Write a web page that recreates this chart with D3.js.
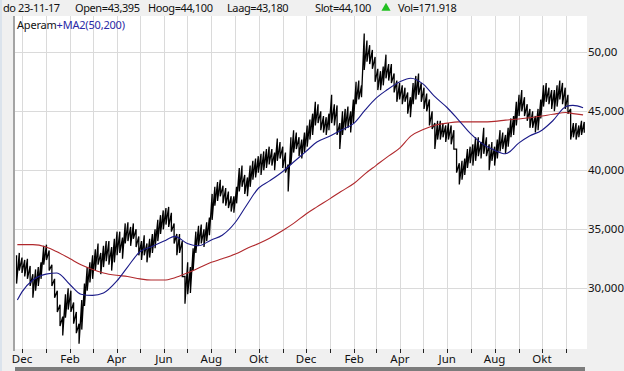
<!DOCTYPE html>
<html lang="nl">
<head>
<meta charset="UTF-8">
<title>Aperam + MA2(50,200)</title>
<script src="https://d3js.org/d3.v7.min.js"></script>
<style>
  body { margin: 0; padding: 0; background: #f0f0f0; overflow: hidden; }
  svg { display: block; font-family: "Noto Sans", "Open Sans", sans-serif; }
  .grid line { stroke: #dadada; stroke-width: 1; shape-rendering: crispEdges; }
  .lbl { font-size: 11px; fill: #111; }
</style>
</head>
<body>
<svg id="chart" width="624" height="371"></svg>
<script>
// half-weekly price bars (low / high), starting 24-11-2015, every 3.5 days
const barLows = [
  30.4,31.5, 31.3,31.0, 30.8,30.2, 29.2,29.8, 30.2,30.8, 32.0,32.4, 31.5,30.2, 29.2,28.0, 26.8,26.0, 27.5,28.2,
  28.0,27.0, 26.2,25.3, 26.5,28.5, 29.8,30.5, 30.8,31.5, 32.0,31.2, 31.8,32.3, 32.0,31.5, 32.2,32.8, 33.0,32.5,
  33.8,34.0, 33.6,34.2, 33.5,32.8, 32.4,32.8, 32.2,32.6, 33.0,33.4, 34.0,34.6, 35.0,35.4, 35.2,34.8, 33.8,32.8,
  33.0,31.0, 28.7,29.5, 29.6,31.5, 33.0,33.6, 33.8,33.5, 34.0,34.5, 35.8,37.0, 37.4,37.8, 37.2,37.0, 36.8,36.5,
  36.4,37.2, 38.2,38.6, 38.0,37.8, 38.6,39.2, 39.4,39.8, 39.6,40.0, 40.2,40.5, 40.4,40.0, 40.8,41.0, 40.2,39.8,
  38.2,40.5, 41.5,41.8, 41.2,41.0, 41.5,42.0, 42.6,43.0, 43.8,44.0, 43.4,43.2, 43.0,43.4, 44.0,43.8, 43.0,41.8,
  43.0,43.4, 43.6,43.2, 44.0,45.6, 46.0,46.2, 48.5,49.2, 49.0,48.6, 47.5,46.8, 46.8,47.2, 47.8,47.6, 47.4,46.6,
  45.8,46.0, 45.6,45.8, 44.8,44.5, 45.6,46.0, 46.4,45.8, 45.2,45.0, 43.8,43.5, 41.8,42.6, 42.6,42.8, 42.4,42.6,
  42.2,41.8, 39.8,38.8, 39.2,39.6, 40.2,40.6, 40.4,40.8, 41.2,41.0, 41.4,41.2, 40.0,40.8, 40.4,41.0, 41.6,41.8,
  41.4,42.0, 42.8,43.0, 43.8,44.6, 45.0,44.6, 44.2,43.6, 43.6,43.2, 43.4,44.4, 45.4,45.8, 45.6,45.2, 45.0,45.4,
  46.0,45.6, 45.2,44.8, 42.6,42.8, 42.6,42.8, 43.0,43.18
];
const barHighs = [
  32.8,33.0, 32.6,32.4, 32.5,31.9, 31.2,31.6, 31.8,32.2, 33.6,33.7, 33.2,32.0, 30.8,29.8, 28.6,27.6, 29.5,30.0,
  29.8,28.8, 28.0,27.0, 29.0,30.4, 31.8,32.2, 32.8,33.3, 33.8,33.0, 33.6,34.0, 34.0,33.5, 34.2,34.8, 34.8,34.3,
  35.5,35.6, 35.2,35.5, 35.0,34.4, 34.0,34.5, 33.8,34.2, 34.6,35.0, 35.8,36.2, 36.6,36.8, 36.9,36.4, 35.5,34.6,
  34.6,34.0, 31.0,32.2, 31.8,33.4, 34.8,35.3, 35.4,35.0, 35.6,36.0, 38.0,38.6, 39.0,39.2, 38.7,38.5, 38.2,37.8,
  37.8,38.6, 40.2,40.4, 39.6,39.4, 40.4,40.8, 41.0,41.2, 41.4,41.6, 41.8,42.0, 41.8,41.5, 42.7,42.4, 42.0,41.5,
  40.5,42.8, 43.4,43.2, 42.8,42.6, 43.2,43.8, 44.3,44.8, 45.8,45.6, 45.0,44.6, 44.5,44.8, 46.4,45.6, 45.5,44.0,
  45.0,45.2, 45.4,45.0, 46.0,47.5, 47.6,47.2, 51.6,51.0, 50.6,50.2, 49.6,48.6, 48.4,48.8, 49.8,49.0, 49.0,48.2,
  47.6,47.4, 47.2,47.0, 46.6,46.2, 47.4,48.0, 48.2,47.4, 47.0,46.5, 46.0,45.0, 44.0,44.2, 44.2,44.0, 43.8,44.0,
  43.8,43.4, 41.8,40.6, 40.8,41.0, 41.8,42.0, 42.2,42.8, 42.8,42.4, 43.6,42.8, 42.2,42.4, 42.0,42.6, 43.4,43.2,
  43.0,43.6, 44.4,44.6, 45.8,46.4, 46.8,46.2, 45.6,45.2, 45.0,44.6, 45.2,46.0, 47.2,47.4, 47.0,46.8, 46.8,47.2,
  47.6,47.4, 47.0,46.4, 45.2,44.0, 44.0,43.8, 44.2,44.10
];

// moving averages, read every half month
const maDates = [
  "2015-11-25","2015-12-01","2015-12-15","2016-01-01","2016-01-15","2016-02-01","2016-02-15","2016-03-01",
  "2016-03-15","2016-04-01","2016-04-15","2016-05-01","2016-05-15","2016-06-01","2016-06-15","2016-07-01",
  "2016-07-15","2016-08-01","2016-08-15","2016-09-01","2016-09-15","2016-10-01","2016-10-15","2016-11-01",
  "2016-11-15","2016-12-01","2016-12-15","2017-01-01","2017-01-15","2017-02-01","2017-02-15","2017-03-01",
  "2017-03-15","2017-04-01","2017-04-15","2017-05-01","2017-05-15","2017-06-01","2017-06-15","2017-07-01",
  "2017-07-15","2017-08-01","2017-08-15","2017-09-01","2017-09-15","2017-10-01","2017-10-15","2017-11-01",
  "2017-11-10","2017-11-23"
];
const ma50 = [
  29.0, 29.7, 30.7, 31.2, 31.3, 30.3, 29.5, 29.4, 29.6, 30.6, 31.8, 33.1, 33.5, 34.0, 34.4, 33.8,
  33.6, 34.1, 34.5, 35.6, 37.0, 38.5, 39.1, 39.9, 40.7, 41.6, 42.4, 42.9, 43.4, 44.0, 45.1, 46.1,
  46.8, 47.5, 47.8, 47.3, 46.3, 45.3, 44.3, 43.1, 42.3, 41.7, 41.4, 42.3, 42.9, 43.4, 44.2, 45.4,
  45.5, 45.3
];
const ma200 = [
  33.7, 33.7, 33.7, 33.5, 33.1, 32.5, 32.0, 31.6, 31.3, 31.1, 31.0, 30.8, 30.7, 30.7, 30.9, 31.3,
  31.7, 32.2, 32.5, 32.9, 33.35, 33.8, 34.25, 34.9, 35.5, 36.3, 36.9, 37.6, 38.2, 38.9, 39.7, 40.4,
  41.1, 41.9, 42.9, 43.45, 43.8, 44.0, 44.1, 44.1, 44.1, 44.15, 44.25, 44.35, 44.45, 44.6, 44.75, 44.9,
  44.8, 44.7
];

const yTicks = [30, 35, 40, 45, 50];
const yTickLabels = ["30,000", "35,000", "40,000", "45,000", "50,00"];
const monthNames = ["Jan", "Feb", "Mrt", "Apr", "Mei", "Jun", "Jul", "Aug", "Sep", "Okt", "Nov", "Dec"];
const headerTexts = ["do 23-11-17", "Open=43,395", "Hoog=44,100", "Laag=43,180", "Slot=44,100", "Vol=171.918"];

const svg = d3.select("#chart");
const plot = { left: 15, right: 587, top: 16, bottom: 349 };

const startDate = new Date(2015, 10, 24);
const bars = barLows.map((lo, i) => ({
  date: d3.timeHour.offset(startDate, i * 84),
  low: lo,
  high: barHighs[i]
}));
const parse = d3.timeParse("%Y-%m-%d");
const maData = maDates.map((d, i) => ({ date: parse(d), ma50: ma50[i], ma200: ma200[i] }));

const x = d3.scaleTime()
  .domain([new Date(2015, 11, 1), new Date(2017, 10, 1)])
  .range([22, 566]);
const y = d3.scaleLinear()
  .domain([30, 50])
  .range([288.3, 52.3]);

svg.append("rect").attr("width", 624).attr("height", 371).attr("fill", "#f0f0f0");
svg.append("rect").attr("width", 2).attr("height", 371).attr("fill", "#dbe3ec");

svg.append("rect")
  .attr("x", plot.left).attr("y", plot.top)
  .attr("width", plot.right - plot.left).attr("height", plot.bottom - plot.top)
  .attr("fill", "#fff");

svg.append("clipPath").attr("id", "clip")
  .append("rect")
  .attr("x", plot.left).attr("y", plot.top)
  .attr("width", plot.right - plot.left).attr("height", plot.bottom - plot.top);

const months = d3.timeMonth.range(new Date(2015, 11, 1), new Date(2017, 11, 1));

// grid
const grid = svg.append("g").attr("class", "grid");
grid.selectAll(".v").data(months).enter().append("line")
  .attr("x1", d => Math.round(x(d)) + 0.5).attr("x2", d => Math.round(x(d)) + 0.5)
  .attr("y1", plot.top).attr("y2", plot.bottom);
grid.selectAll(".h").data(yTicks).enter().append("line")
  .attr("x1", plot.left).attr("x2", plot.right)
  .attr("y1", d => Math.round(y(d)) + 0.5).attr("y2", d => Math.round(y(d)) + 0.5);

// left frame
svg.append("line")
  .attr("x1", plot.left - 1).attr("x2", plot.left - 1)
  .attr("y1", plot.top).attr("y2", plot.bottom + 2)
  .attr("stroke", "#a4a4a4").attr("stroke-width", 2);

const chart = svg.append("g").attr("clip-path", "url(#clip)");

// price: each bar drawn high -> low, then on to the next bar's high
const pricePath = d3.path();
bars.forEach((d, i) => {
  const bx = x(d.date);
  if (i === 0) pricePath.moveTo(bx, y(d.high));
  else pricePath.lineTo(bx, y(d.high));
  pricePath.lineTo(bx, y(d.low));
});
chart.append("path")
  .attr("d", pricePath.toString())
  .attr("fill", "none")
  .attr("stroke", "#000")
  .attr("stroke-width", 1.3)
  .attr("stroke-linejoin", "miter")
  .attr("stroke-miterlimit", 2);

// moving averages
const lineFor = key => d3.line()
  .x(d => x(d.date))
  .y(d => y(d[key]))
  .curve(d3.curveMonotoneX);

chart.append("path").datum(maData)
  .attr("d", lineFor("ma200"))
  .attr("fill", "none").attr("stroke", "#b0282c").attr("stroke-width", 1.1);
chart.append("path").datum(maData)
  .attr("d", lineFor("ma50"))
  .attr("fill", "none").attr("stroke", "#1a1a88").attr("stroke-width", 1.1);

// y labels on the right
svg.selectAll(".ylab").data(yTicks).enter().append("text")
  .attr("class", "lbl")
  .attr("x", plot.right + 1)
  .attr("y", d => y(d) + 4)
  .style("font-size", "11.5px")
  .text((d, i) => yTickLabels[i]);

// month ticks and labels
svg.selectAll(".tick").data(months).enter().append("line")
  .attr("x1", d => Math.round(x(d)) + 0.5).attr("x2", d => Math.round(x(d)) + 0.5)
  .attr("y1", plot.bottom).attr("y2", plot.bottom + 4)
  .attr("stroke", "#222");
svg.selectAll(".xlab").data(months.filter(d => d.getMonth() % 2 === 1)).enter().append("text")
  .attr("class", "lbl")
  .attr("x", d => x(d))
  .attr("y", 363)
  .attr("text-anchor", "middle")
  .style("font-size", "11.5px")
  .text(d => monthNames[d.getMonth()]);

// bottom scroll bar
svg.append("rect")
  .attr("x", plot.left).attr("y", 367)
  .attr("width", plot.right - plot.left - 2).attr("height", 4)
  .attr("fill", "#7c7c7c");

// legend inside the plot
const legend = svg.append("text").attr("x", 17).attr("y", 29)
  .style("font-size", "11px").style("letter-spacing", "-0.2px");
legend.append("tspan").attr("fill", "#111").text("Aperam");
legend.append("tspan").attr("fill", "#2a2aa6").text("+MA2(50,200)");

// header line
const headerX = [3, 75, 148, 227, 315, 398];
svg.selectAll(".head").data(headerTexts).enter().append("text")
  .attr("class", "lbl")
  .attr("x", (d, i) => headerX[i])
  .attr("y", 12)
  .style("font-size", "11px")
  .style("letter-spacing", "-0.4px")
  .text(d => d);
svg.append("path")
  .attr("d", d3.symbol(d3.symbolTriangle, 36)())
  .attr("transform", "translate(386,8)")
  .attr("fill", "#22c022");
</script>
</body>
</html>
